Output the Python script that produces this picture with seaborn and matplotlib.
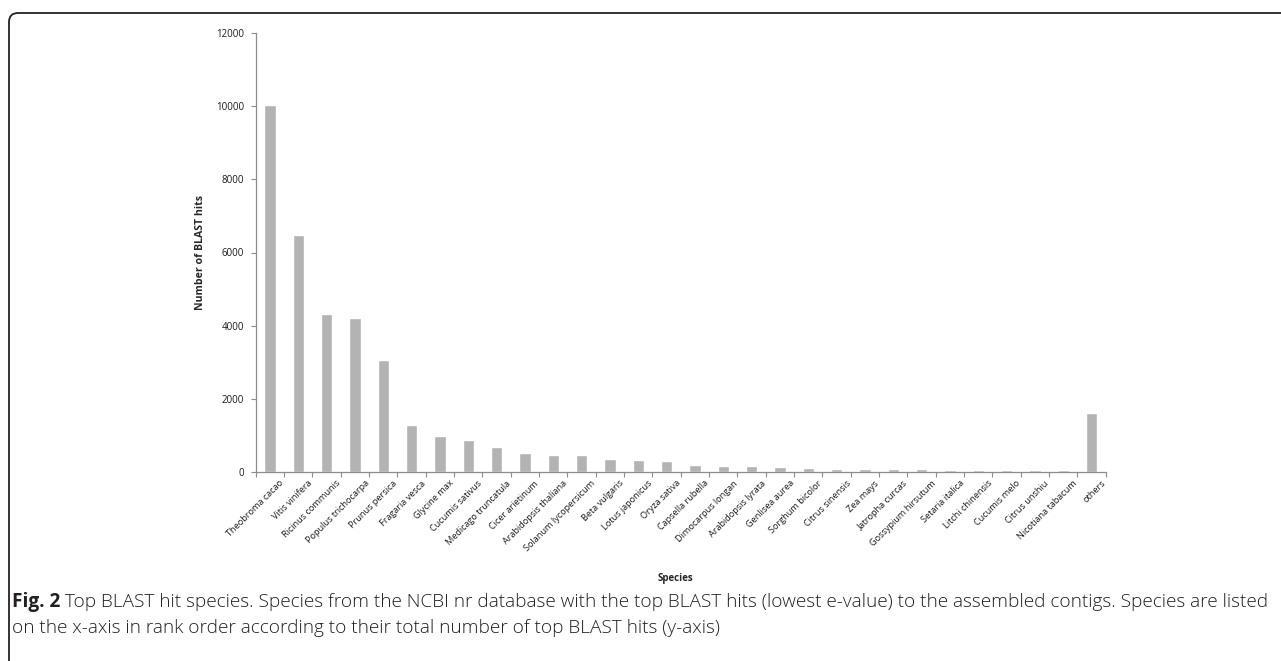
import numpy as np
import pandas as pd
import matplotlib
matplotlib.use("Agg")
import matplotlib.pyplot as plt
from matplotlib.patches import FancyBboxPatch
from matplotlib.transforms import ScaledTranslation, blended_transform_factory
import seaborn as sns

# Top BLAST hit counts per species
species = [
    "Theobroma cacao", "Vitis vinifera", "Ricinus communis", "Populus trichocarpa",
    "Prunus persica", "Fragaria vesca", "Glycine max", "Cucumis sativus",
    "Medicago truncatula", "Cicer arietinum", "Arabidopsis thaliana",
    "Solanum lycopersicum", "Beta vulgaris", "Lotus japonicus", "Oryza sativa",
    "Capsella rubella", "Dimocarpus longan", "Arabidopsis lyrata", "Genlisea aurea",
    "Sorghum bicolor", "Citrus sinensis", "Zea mays", "Jatropha curcas",
    "Gossypium hirsutum", "Setaria italica", "Litchi chinensis", "Cucumis melo",
    "Citrus unshiu", "Nicotiana tabacum", "others",
]
hits = [
    10050, 6480, 4320, 4200, 3060, 1280, 990, 870, 680, 520, 460, 450, 340, 320,
    290, 175, 160, 160, 130, 95, 85, 85, 75, 75, 50, 50, 48, 45, 42, 1615,
]
y_ticks = [0, 2000, 4000, 6000, 8000, 10000, 12000]

caption_bold = "Fig. 2"
caption_line1 = (" Top BLAST hit species. Species from the NCBI nr database with the top "
                 "BLAST hits (lowest e-value) to the assembled contigs. Species are listed")
caption_line2 = ("on the x-axis in rank order according to their total number of top "
                 "BLAST hits (y-axis)")

df = pd.DataFrame({"Species": species, "Hits": hits})

sns.set_theme(style="white")
plt.rcParams["font.family"] = ["Open Sans", "DejaVu Sans"]

W, H = 1281, 661
ax_left, ax_right, ax_top, ax_bottom = 255.7, 1105.7, 33.3, 471.7
fig = plt.figure(figsize=(W / 100, H / 100), dpi=100)
ax = fig.add_axes([ax_left / W, 1 - ax_bottom / H,
                   (ax_right - ax_left) / W, (ax_bottom - ax_top) / H])

sns.barplot(data=df, x="Species", y="Hits", color="#b3b3b3", saturation=1,
            width=0.4, ax=ax)

axis_grey = "#8c8c8c"
label_col = "#1a1a1a"
ax.set_xlim(-0.5, len(species) - 0.5)
ax.set_ylim(0, 12000)
ax.set_yticks(y_ticks)
ax.set_yticklabels([str(v) for v in y_ticks], fontsize=7, color=label_col)
for s in ["top", "right"]:
    ax.spines[s].set_visible(False)
for s in ["left", "bottom"]:
    ax.spines[s].set_color(axis_grey)
    ax.spines[s].set_linewidth(0.9)

# tick marks on the category boundaries, slanted names hung below each bar
ax.set_xticks(np.arange(len(species)))
ax.set_xticklabels([])
ax.set_xticks(np.arange(-0.5, len(species), 1), minor=True)
ax.tick_params(axis="x", which="major", length=0)
ax.tick_params(axis="x", which="minor", length=3.5, width=0.8, color=axis_grey,
               direction="out", bottom=True)
ax.tick_params(axis="y", which="major", length=3.5, width=0.8, color=axis_grey,
               direction="out", left=True, pad=5)

lab_trans = (blended_transform_factory(ax.transData, ax.transAxes)
             + ScaledTranslation(0.095, -0.07, fig.dpi_scale_trans))
for i, name in enumerate(species):
    ax.text(i, 0, name, transform=lab_trans, rotation=45, ha="right", va="top",
            rotation_mode="anchor", fontsize=6.6, color=label_col, clip_on=False)

ax_w, ax_h = ax_right - ax_left, ax_bottom - ax_top
ax.set_xlabel("Species", fontsize=7, fontweight="bold", labelpad=0)
ax.xaxis.set_label_coords((675 - ax_left) / ax_w, -(578 - ax_bottom) / ax_h)
ax.xaxis.label.set_va("center")
ax.set_ylabel("Number of BLAST hits", fontsize=7.6, fontweight="bold")
ax.yaxis.set_label_coords(-(ax_left - 200) / ax_w, 0.5)
ax.yaxis.label.set_va("center")

# rounded frame around the figure panel (top and left edges visible)
frame = FancyBboxPatch((9 / 100, -1.0), 14.0, (H - 13) / 100 + 1.0,
                       boxstyle="round,pad=0,rounding_size=0.09",
                       transform=fig.dpi_scale_trans, fill=False,
                       edgecolor="#222222", linewidth=1.3, clip_on=False)
fig.patches.append(frame)

# caption
cap_size = 13.65
t1 = fig.text(12 / W, 1 - 602 / H, caption_bold, fontsize=cap_size, fontweight="bold",
              color="#231f20", va="center", ha="left")
fig.canvas.draw()
bb = t1.get_window_extent()
fig.text(bb.x1 / W, 1 - 602 / H, caption_line1, fontsize=cap_size, fontweight="light",
         color="#231f20", va="center", ha="left")
fig.text(12 / W, 1 - 628 / H, caption_line2, fontsize=cap_size, fontweight="light",
         color="#231f20", va="center", ha="left")

fig.savefig("out.png", dpi=100)
